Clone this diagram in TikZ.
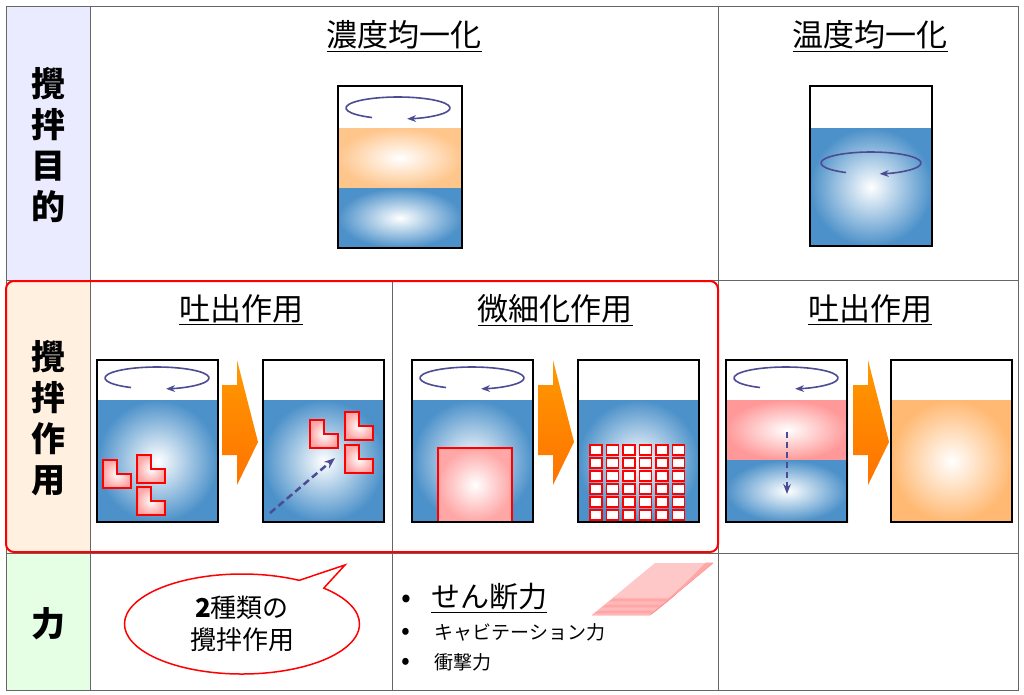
\documentclass[tikz,border=0pt]{standalone}
\usepackage{fontspec}
\setmainfont{Noto Sans CJK JP}
\usetikzlibrary{shapes.callouts,arrows.meta}
\begin{document}
\begin{tikzpicture}[x=1pt,y=-1pt,
  tank/.style={draw=black,line width=2pt},
  hdr/.style={font=\fontsize{31}{34}\selectfont},
  side/.style={font=\bfseries\fontsize{34}{41}\selectfont,align=center},
  grid/.style={draw=black!60,line width=1pt},
  lpiece/.style={draw=red,line width=1.6pt,inner color=white,outer color=red!35},
  rot/.style={draw=black!60!blue!70,line width=1.6pt,-{Stealth[length=9pt]}}]
\useasboundingbox (0,0) rectangle (1024,694);
\fill[white] (0,0) rectangle (1024,694);
\fill[blue!8] (6,6) rectangle (90,280);
\fill[orange!12] (6,280) rectangle (90,553);
\fill[green!10] (6,553) rectangle (90,690);
\draw[grid] (6,6) rectangle (1018,690);
\draw[grid] (90,6) -- (90,690);
\draw[grid] (718,6) -- (718,690);
\draw[grid] (392,280) -- (392,690);
\draw[grid] (6,280) -- (1018,280);
\draw[grid] (6,553) -- (1018,553);
\node[side] (s1) at (48,145) {攪\\拌\\目\\的};
\node[side] (s2) at (48,418) {攪\\拌\\作\\用};
\node[side] (s3) at (48,624) {力};
\node[hdr] (h1) at (404,36) {\underline{濃度均一化}};
\node[hdr] (h2) at (870,36) {\underline{温度均一化}};
\node[hdr] (h3) at (241,310) {\underline{吐出作用}};
\node[hdr] (h4) at (555,310) {\underline{微細化作用}};
\node[hdr] (h5) at (870,310) {\underline{吐出作用}};
\newcommand{\liq}[5]{\shade[inner color=white,outer color=#5] (#1,#2) rectangle (#3,#4);}
\colorlet{wat}{blue!45!cyan!70!black!70}
\liq{338}{128}{462}{188}{orange!45}
\liq{338}{188}{462}{248}{wat}
\draw[tank] (338,86) rectangle (462,248);
\draw[rot] (398,108) ++(120:52 and 11) arc[start angle=120,end angle=440,x radius=52,y radius=11];
\liq{810}{128}{932}{246}{wat}
\draw[tank] (810,86) rectangle (932,246);
\draw[rot] (871,163) ++(120:50 and 11) arc[start angle=120,end angle=440,x radius=50,y radius=11];
\foreach \x in {97,263,412,578}{
  \liq{\x}{400}{\x+121}{522}{wat}
}
\liq{726}{400}{848}{460}{red!40}
\liq{726}{460}{848}{522}{wat}
\liq{891}{400}{1012}{522}{orange!55}
\newcommand{\Lp}[2]{\filldraw[lpiece] (#1,#2) -- ++(14,0) -- ++(0,14) -- ++(14,0) -- ++(0,14) -- ++(-28,0) -- cycle;}
\Lp{103}{460}\Lp{137}{455}\Lp{137}{487}
\Lp{310}{420}\Lp{345}{412}\Lp{345}{445}
\draw[line width=2.5pt,dash pattern=on 7pt off 4pt,draw=black!60!blue!70,-{Stealth[length=11pt]}] (270,513) -- (335,458);
\filldraw[lpiece] (438,448) rectangle (512,522);
\foreach \i in {0,...,5}{\foreach \j in {0,...,5}{
  \filldraw[draw=red,line width=1.4pt,fill=white] (590+\i*16.5,445+\j*13) rectangle ++(12,10);}}
\draw[line width=2pt,dash pattern=on 6pt off 4pt,draw=black!60!blue!70,-{Stealth[length=10pt]}] (787,432) -- (787,494);
\foreach \x in {97,263,412,578,726,891}{\draw[tank] (\x,360) rectangle (\x+121,522);}
\foreach \x in {97,412,726}{
  \draw[rot] (\x+60,378) ++(120:52 and 11) arc[start angle=120,end angle=440,x radius=52,y radius=11];}
\foreach \x in {222,538,853}{
  \shade[top color=orange!80!yellow,bottom color=orange!90!red] (\x,385) -- (\x+15,385) -- (\x+15,360) -- (\x+36,442) -- (\x+15,485) -- (\x+15,455) -- (\x,455) -- cycle;}
\draw[red,line width=2pt,rounded corners=8pt] (6,281) rectangle (718,552);
\node[ellipse callout,draw=red,line width=1.5pt,fill=white,minimum width=235pt,minimum height=100pt,
  callout absolute pointer={(345,565)},align=center,font=\fontsize{26}{32}\selectfont] (c) at (242,624)
  {\textbf{2}種類の\\攪拌作用};
\foreach \k in {0,...,14}{\draw[red!45,line width=0.8pt] (592+\k*1.5,615-\k*1.2) -- (650+\k*1.5,615-\k*1.2) -- (713-\k*0.5,563);}
\fill[red!30,opacity=0.7] (592,615) -- (650,615) -- (713,563) -- (655,563) -- cycle;
\node[anchor=west,font=\fontsize{29}{32}\selectfont] (f1) at (398,598) {•\hspace{20pt}\underline{せん断力}};
\node[anchor=west,font=\fontsize{19}{22}\selectfont] (f2) at (398,632) {{\fontsize{26}{22}\selectfont•}\hspace{24pt}キャビテーション力};
\node[anchor=west,font=\fontsize{19}{22}\selectfont] (f3) at (398,662) {{\fontsize{26}{22}\selectfont•}\hspace{24pt}衝撃力};
\end{tikzpicture}
\end{document}
